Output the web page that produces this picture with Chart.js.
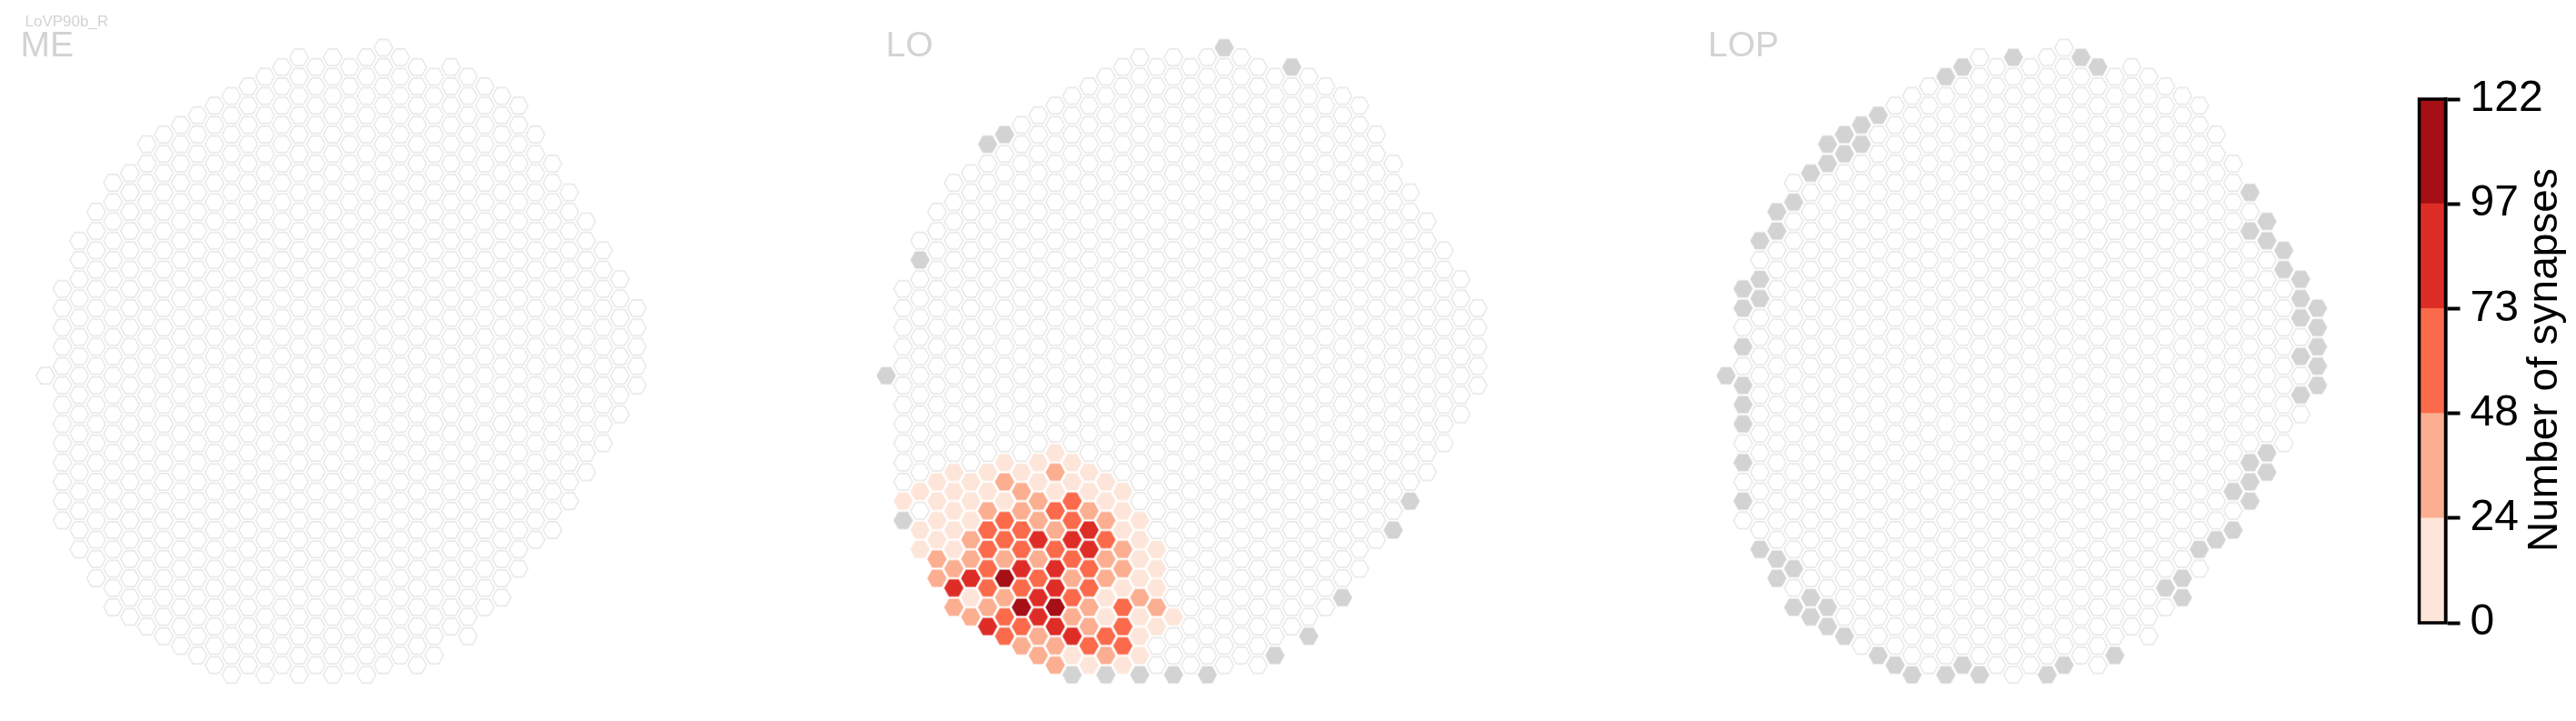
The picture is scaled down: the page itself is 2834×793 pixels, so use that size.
<!DOCTYPE html>
<html>
<head>
<meta charset="utf-8">
<title>LoVP90b_R</title>
<script src="https://cdn.jsdelivr.net/npm/chart.js@4"></script>
<style>
html,body{margin:0;padding:0;background:#fff;width:2834px;height:793px;overflow:hidden}
canvas{position:absolute;top:0}
</style>
</head>
<body>
<canvas id="me" width="760" height="793" style="left:0"></canvas>
<canvas id="lo" width="760" height="793" style="left:924.5px"></canvas>
<canvas id="lop" width="760" height="793" style="left:1849px"></canvas>
<canvas id="bar" width="194" height="793" style="left:2640px"></canvas>
<script>
// ---- Data ----
const cellType = 'LoVP90b_R';
const panelNames = ['ME', 'LO', 'LOP'];

// hex lattice: column index, first and last half-row of every column
const columnTop =    [34,25,20,17,14,13,10, 9, 8, 7, 6, 5, 4, 3, 2, 1, 2, 1, 2, 1, 0, 1, 2, 3, 2, 3, 4, 5, 6, 9,12,15,18,21,24,27];
const columnBottom = [34,49,52,55,58,59,60,61,62,63,64,65,64,65,64,65,64,65,64,65,64,63,64,63,60,61,58,57,54,51,50,47,44,41,38,35];

// LO: synapse counts per column (every second half-row, from loValueTop)
const loValueColumn = [1,2,3,4,5,6,7,8,9,10,11,12,13,14,15,16,17];
const loValueTop    = [47,46,45,44,45,44,43,44,43,42,43,44,45,46,49,52,59];
const loValues = [
  [12],
  [12,0,12,12],
  [12,12,12,12,36,36],
  [12,12,12,12,12,36,85,36],
  [12,12,12,36,36,85,12,36],
  [12,12,36,60,60,60,60,36,85],
  [12,36,12,60,60,36,110,36,60,60],
  [12,36,36,60,60,85,60,110,60,36],
  [12,12,36,36,85,36,60,85,85,36,36],
  [12,36,12,60,36,60,85,85,110,85,36,36],
  [12,12,60,60,85,60,36,60,36,85,12],
  [12,12,36,85,85,60,60,36,36,60,12],
  [12,12,36,60,36,36,12,12,60,36],
  [12,12,12,36,36,12,60,60,60,12],
  [12,12,12,12,36,12,12,12],
  [12,12,12,36,12],
  [12]
];

// grey cells (column, half-row)
const loGreyColumn = [20,24,7,6,2,0,1,11,13,15,17,19,23,25,27,30,31];
const loGreyRow    = [0,2,9,10,22,34,49,65,65,65,65,65,63,61,57,50,47];
const lopGreyColumn = [17,21,22,14,13,9,8,7,6,8,7,6,5,4,3,3,2,2,1,2,1,1,
  31,32,31,32,33,33,34,34,35,34,35,35,34,35,35,34,
  0,1,1,1,1,1,2,3,4,3,5,4,6,5,6,7,9,10,11,13,14,15,19,20,23,
  27,26,27,28,29,30,30,31,31,32,31,32];
const lopGreyRow = [1,1,2,2,3,7,8,9,10,10,11,12,13,16,17,19,20,24,25,26,27,31,
  15,18,19,20,21,23,24,26,27,28,29,31,32,33,35,36,
  34,35,37,39,43,47,52,53,54,55,57,58,58,59,60,61,63,64,65,65,64,65,65,64,63,
  55,56,57,52,51,50,46,47,45,44,43,42];

// colour bar
const binEdges = [0,24.4,48.8,73.2,97.6,122];
const tickLabels = ['0','24','48','73','97','122'];
const binColors = ['#fee5d9','#fcae91','#fb6a4a','#de2d26','#a50f15'];
const colorbarTitle = 'Number of synapses';

// ---- Styles ----
const FONT = '"Liberation Sans", Arial, sans-serif';
const GREY = '#d3d3d3';
const EMPTY_STROKE = '#d8d8d8';

function hexCanvas(fill, stroke, rx, ry) {
  const c = document.createElement('canvas');
  c.width = 28; c.height = 26;
  const g = c.getContext('2d');
  g.translate(14, 13);
  g.beginPath();
  g.moveTo(-rx, 0); g.lineTo(-rx / 2, -ry); g.lineTo(rx / 2, -ry);
  g.lineTo(rx, 0); g.lineTo(rx / 2, ry); g.lineTo(-rx / 2, ry);
  g.closePath();
  g.fillStyle = fill; g.fill();
  if (stroke) { g.lineWidth = 1; g.strokeStyle = stroke; g.lineJoin = 'round'; g.stroke(); }
  return c;
}
const emptyHex = hexCanvas('#ffffff', EMPTY_STROKE, 10.3, 9.1);
const greyHex = hexCanvas(GREY, null, 10.7, 9.4);
const binHexes = binColors.map(col => hexCanvas(col, null, 10.7, 9.4));

function binOf(v) {
  for (let i = 0; i < binColors.length; i++) if (v <= binEdges[i + 1]) return i;
  return binColors.length - 1;
}
function key(c, h) { return c + ':' + h; }

const loValueMap = new Map();
loValueColumn.forEach((c, i) => loValues[i].forEach((v, j) => loValueMap.set(key(c, loValueTop[i] + 2 * j), v)));
const greySets = [
  new Set(),
  new Set(loGreyColumn.map((c, i) => key(c, loGreyRow[i]))),
  new Set(lopGreyColumn.map((c, i) => key(c, lopGreyRow[i])))
];
const valueMaps = [new Map(), loValueMap, new Map()];

function panelPoints(p) {
  const pts = [];
  columnTop.forEach((top, c) => {
    for (let h = top; h <= columnBottom[c]; h += 2) {
      pts.push({ x: c, y: h, grey: greySets[p].has(key(c, h)), v: valueMaps[p].get(key(c, h)) || 0 });
    }
  });
  return pts;
}

const panelLabelPos = [[22.5, 61.5], [974, 61.5 ], [1879, 61.5]];
const panelLeft = [0, 924.5, 1849];

function makePanel(id, p) {
  new Chart(document.getElementById(id), {
    type: 'scatter',
    data: { datasets: [{
      label: panelNames[p],
      data: panelPoints(p),
      pointRadius: 10,
      pointHoverRadius: 10,
      pointStyle: ctx => {
        const d = ctx.raw;
        if (!d) return emptyHex;
        if (d.grey) return greyHex;
        if (d.v > 0) return binHexes[binOf(d.v)];
        return emptyHex;
      }
    }] },
    options: {
      responsive: false,
      animation: false,
      events: [],
      layout: { padding: 0, autoPadding: false },
      plugins: { legend: { display: false }, tooltip: { enabled: false } },
      scales: {
        x: { type: 'linear', display: false, min: -50 / 18.59, max: (760 - 50) / 18.59 },
        y: { type: 'linear', display: false, reverse: true, min: -52.5 / 10.61, max: (793 - 52.5) / 10.61 }
      }
    },
    plugins: [{
      id: 'panelLabel',
      afterDraw(chart) {
        const g = chart.ctx;
        g.save();
        g.fillStyle = GREY;
        g.textBaseline = 'alphabetic';
        g.textAlign = 'left';
        g.font = '39px ' + FONT;
        g.fillText(panelNames[p], panelLabelPos[p][0] - panelLeft[p], panelLabelPos[p][1]);
        if (p === 0) {
          g.font = '17px ' + FONT;
          g.fillText(cellType, 27.5, 28.5);
        }
        g.restore();
      }
    }]
  });
}
makePanel('me', 0);
makePanel('lo', 1);
makePanel('lop', 2);

new Chart(document.getElementById('bar'), {
  type: 'bar',
  data: {
    labels: [''],
    datasets: binColors.map((col, i) => ({
      label: tickLabels[i] + '-' + tickLabels[i + 1],
      data: [binEdges[i + 1] - binEdges[i]],
      backgroundColor: col,
      borderWidth: 0,
      barPercentage: 1,
      categoryPercentage: 1,
      stack: 'bar'
    }))
  },
  options: {
    responsive: false,
    animation: false,
    events: [],
    layout: { padding: { left: 21.5, top: 109, bottom: 108, right: 0 }, autoPadding: false },
    plugins: { legend: { display: false }, tooltip: { enabled: false } },
    scales: {
      x: { display: false, stacked: true },
      y: {
        position: 'right',
        stacked: true,
        min: 0,
        max: 122,
        afterFit: s => { s.width = 143.5; },
        afterBuildTicks: s => { s.ticks = binEdges.map(v => ({ value: v })); },
        border: { display: true, color: '#000', width: 3.5 },
        grid: { drawOnChartArea: false, drawTicks: true, tickLength: 16, tickWidth: 4, tickColor: '#000' },
        ticks: {
          color: '#000',
          padding: 11,
          autoSkip: false,
          maxRotation: 0,
          font: { family: FONT, size: 48 },
          callback: (v, i) => tickLabels[i]
        }
      }
    }
  },
  plugins: [{
    id: 'barFrame',
    afterDraw(chart) {
      const a = chart.chartArea, g = chart.ctx;
      g.save();
      g.strokeStyle = '#000';
      g.lineWidth = 3.5;
      g.strokeRect(a.left, a.top, a.right - a.left, a.bottom - a.top);
      g.fillStyle = '#000';
      g.font = '46px ' + FONT;
      g.textAlign = 'center';
      g.textBaseline = 'alphabetic';
      g.translate(2813 - 2640, 396);
      g.rotate(-Math.PI / 2);
      g.fillText(colorbarTitle, 0, 0);
      g.restore();
    }
  }]
});
</script>
</body>
</html>
